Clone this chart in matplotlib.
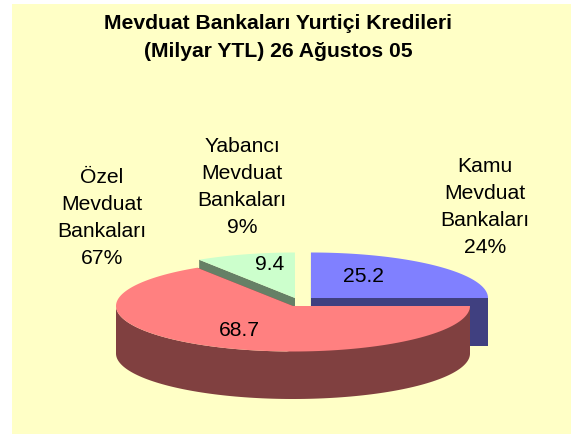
import numpy as np
import matplotlib
matplotlib.use("Agg")
import matplotlib.pyplot as plt

plt.rcParams['font.family'] = ['Liberation Sans', 'DejaVu Sans']

title = "Mevduat Bankaları Yurtiçi Kredileri\n(Milyar YTL) 26 Ağustos 05"
categories = ["Kamu\nMevduat\nBankaları", "Yabancı\nMevduat\nBankaları", "Özel\nMevduat\nBankaları"]
values = [25.2, 9.4, 68.7]
percents = ["24%", "9%", "67%"]

top_colors = ["#8080FF", "#CCFFCC", "#FF8080"]
side_colors = ["#404080", "#668066", "#804040"]
centers = [(311, 298), (295, 298), (293, 306)]
label_pos = [(485, 207), (242, 187), (102, 218)]
value_pos = [(364, 276), (270, 265), (239, 330)]
rx, ry, depth = 177, 45.5, 47.5
# the tilted pie skews the slice edges a little
skew = 2.2


def arc(cx, cy, a0, a1):
    t = np.radians(np.linspace(a0, a1, 120))
    return cx + rx * np.cos(t), cy - ry * np.sin(t)


def draw_slice(ax, i, a0, a1):
    cx, cy = centers[i]
    c_top, c_side = top_colors[i], side_colors[i]
    x, y = arc(cx, cy, a0, a1)
    # cut faces first
    for ex, ey in [(x[0], y[0]), (x[-1], y[-1])]:
        ax.fill([cx, ex, ex, cx], [cy, ey, ey + depth, cy + depth], color=c_side, lw=0)
    # outer wall, only the part facing down
    lo, hi = max(a0, 180), min(a1, 360)
    if hi > lo:
        wx, wy = arc(cx, cy, lo, hi)
        ax.fill(np.r_[wx, wx[::-1]], np.r_[wy, wy[::-1] + depth], color=c_side, lw=0)
    ax.fill(np.r_[cx, x], np.r_[cy, y], color=c_top, lw=0)


fig = plt.figure(figsize=(5.71, 4.34), dpi=100)
ax = fig.add_axes([0, 0, 1, 1])
ax.set_xlim(0, 571)
ax.set_ylim(434, 0)
ax.axis("off")
ax.add_patch(plt.Rectangle((12, 4), 559, 430, color="#FFFFC6", lw=0))

# angles go counter clockwise from the right hand side
total = sum(values)
sweep = [v / total * 360 for v in values]
a_blue = sweep[0] + skew
a_green = sweep[0] + sweep[1] + skew

draw_slice(ax, 0, 0, a_blue)
draw_slice(ax, 1, a_blue, a_green)
draw_slice(ax, 2, a_green, 360)

for i in range(3):
    ax.text(label_pos[i][0], label_pos[i][1], categories[i] + "\n" + percents[i],
            ha="center", va="center", fontsize=15.2, linespacing=1.54)
    ax.text(value_pos[i][0], value_pos[i][1], str(values[i]),
            ha="center", va="center", fontsize=15.2)

ax.text(278.5, 37.5, title, ha="center", va="center", fontsize=15.2, fontweight="bold", linespacing=1.65)

fig.savefig("out.png", dpi=100)
